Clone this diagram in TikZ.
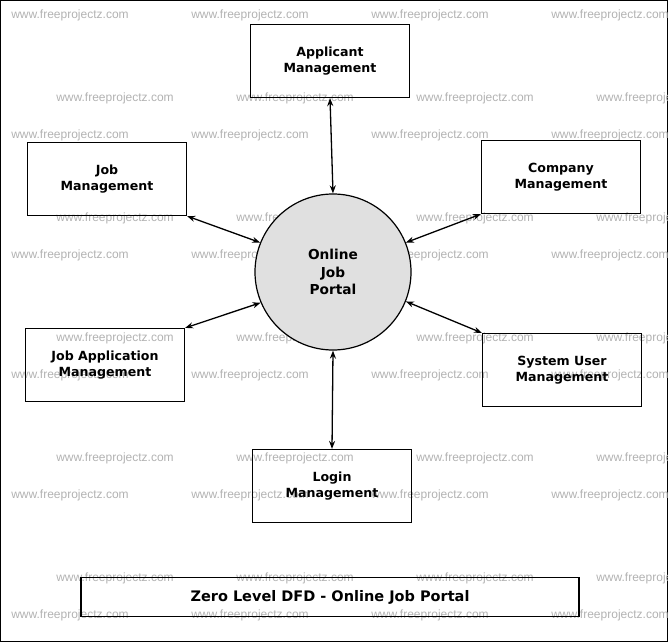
\documentclass[tikz,border=0pt]{standalone}
\usepackage{fontspec}
\setmainfont{DejaVu Sans}
\newfontfamily\wmfont{Liberation Sans}
\usetikzlibrary{arrows.meta}
\begin{document}
\begin{tikzpicture}[x=1pt,y=-1pt,
 box/.style={draw,line width=1.2pt,minimum width=159pt,minimum height=73pt,align=center,font=\bfseries\fontsize{12.6}{16}\selectfont},
 wm/.style={text=black!30,font=\wmfont\fontsize{12}{13}\selectfont},
 link/.style={line width=1.3pt,{Stealth[length=8pt,width=6pt]}-{Stealth[length=8pt,width=6pt]}}]
\draw[line width=1pt] (0.5,0.5) rectangle (667.5,641.5);
\useasboundingbox (0,0) rectangle (668,642);
\foreach \y in {15,135,255,375,495,615} \foreach \x in {70,250,430,610} \node[wm] at (\x,\y) {www.freeprojectz.com};
\foreach \y in {98,218,338,458,578} \foreach \x in {115,295,475,655} \node[wm] at (\x,\y) {www.freeprojectz.com};
\node[draw,circle,fill=black!12,line width=1.2pt,minimum size=156pt,align=center,font=\bfseries\fontsize{13.7}{17.5}\selectfont] (c) at (333,272) {Online\\Job\\Portal};
\node[box] (app) at (330,61) {Applicant\\Management};
\node[box] (job) at (107,179) {Job\\Management};
\node[box] (com) at (561,177) {Company\\Management};
\node[box] (ja) at (105,365) {Job Application\\Management};
\node[box] (su) at (562,370) {System User\\Management};
\node[box] (lo) at (332,486) {Login\\Management};
\node[draw,line width=1.2pt,minimum width=498pt,minimum height=39pt,font=\bfseries\fontsize{14.5}{17}\selectfont] (t) at (330,597) {Zero Level DFD - Online Job Portal};
\draw[link] (app.south) -- (c.north);
\draw[link] (lo.north) -- (c.south);
\draw[link] (job.south east) -- (c.158);
\draw[link] (com.south west) -- (c.22);
\draw[link] (ja.north east) -- (c.203);
\draw[link] (su.north west) -- (c.-22);
\end{tikzpicture}
\end{document}
